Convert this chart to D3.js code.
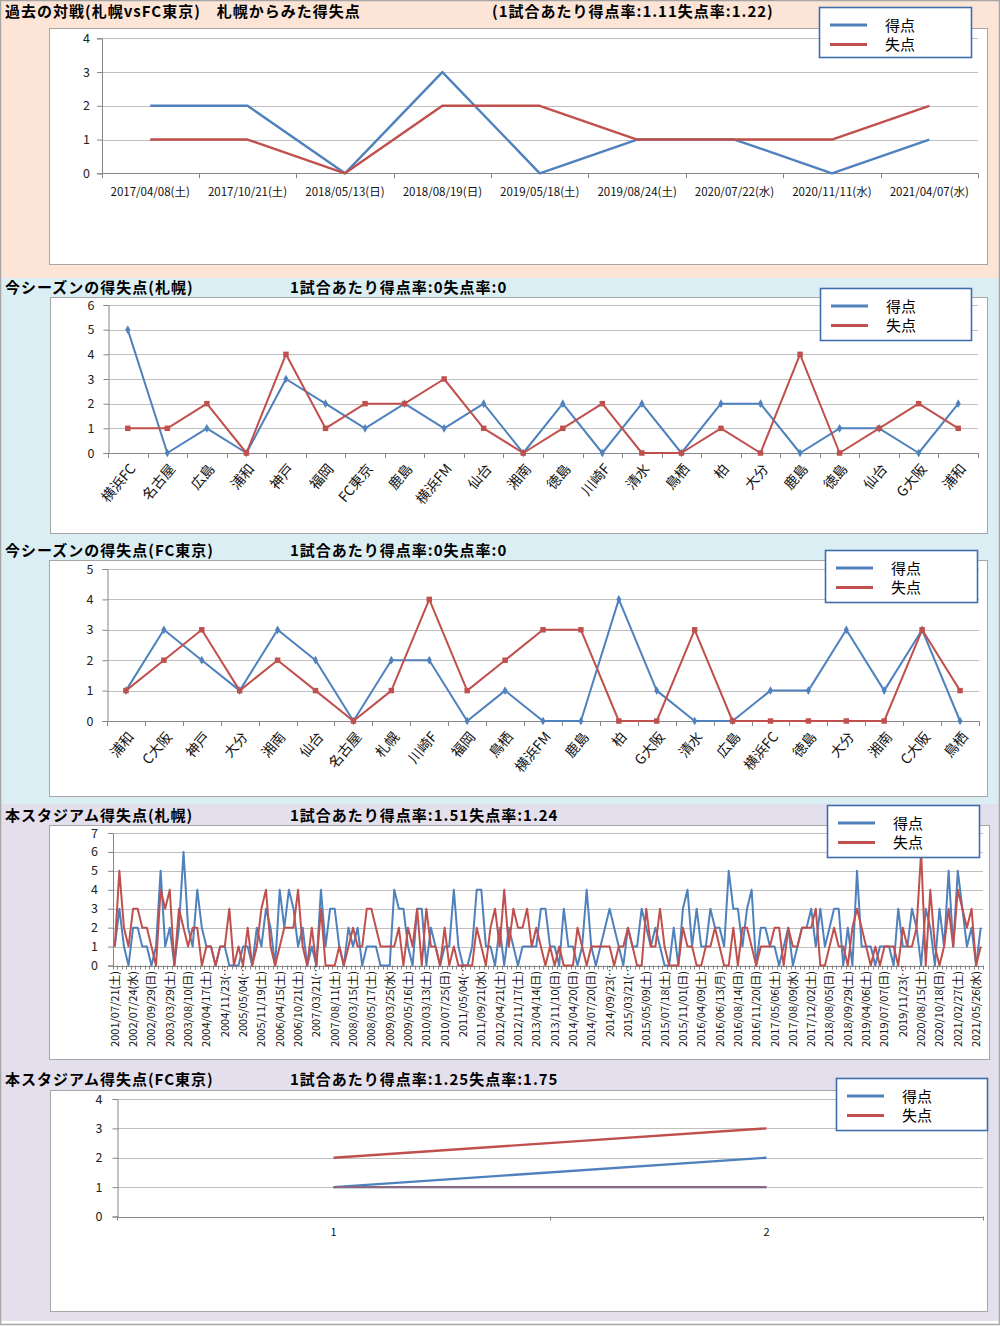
<!DOCTYPE html>
<html><head><meta charset="utf-8">
<script src="https://cdn.jsdelivr.net/npm/d3@7"></script>
<style>body{margin:0;background:#fff}svg{display:block}</style>
</head><body>
<svg id="c" width="1000" height="1326"></svg>
<script>
// ---------- DATA ----------
const seriesNames = ["得点", "失点"];

// Panel 1: past head-to-head (Sapporo vs FC Tokyo)
const p1Title = "過去の対戦(札幌vsFC東京)　札幌からみた得失点";
const p1Rate = "(1試合あたり得点率:1.11失点率:1.22)";
const p1Dates = ["2017/04/08(土)","2017/10/21(土)","2018/05/13(日)","2018/08/19(日)","2019/05/18(土)","2019/08/24(土)","2020/07/22(水)","2020/11/11(水)","2021/04/07(水)"];
const p1For = [2,2,0,3,0,1,1,0,1];
const p1Against = [1,1,0,2,2,1,1,1,2];

// Panel 2: this season (Sapporo)
const p2Title = "今シーズンの得失点(札幌)";
const p2Rate = "1試合あたり得点率:0失点率:0";
const p2Teams = ["横浜FC","名古屋","広島","浦和","神戸","福岡","FC東京","鹿島","横浜FM","仙台","湘南","徳島","川崎F","清水","鳥栖","柏","大分","鹿島","徳島","仙台","G大阪","浦和"];
const p2For = [5,0,1,0,3,2,1,2,1,2,0,2,0,2,0,2,2,0,1,1,0,2];
const p2Against = [1,1,2,0,4,1,2,2,3,1,0,1,2,0,0,1,0,4,0,1,2,1];

// Panel 3: this season (FC Tokyo)
const p3Title = "今シーズンの得失点(FC東京)";
const p3Rate = "1試合あたり得点率:0失点率:0";
const p3Teams = ["浦和","C大阪","神戸","大分","湘南","仙台","名古屋","札幌","川崎F","福岡","鳥栖","横浜FM","鹿島","柏","G大阪","清水","広島","横浜FC","徳島","大分","湘南","C大阪","鳥栖"];
const p3For = [1,3,2,1,3,2,0,2,2,0,1,0,0,4,1,0,0,1,1,3,1,3,0];
const p3Against = [1,2,3,1,2,1,0,1,4,1,2,3,3,0,0,3,0,0,0,0,0,3,1];

// Panel 4: this stadium (Sapporo) – every match, labels shown every 4th match
const p4Title = "本スタジアム得失点(札幌)";
const p4Rate = "1試合あたり得点率:1.51失点率:1.24";
const p4LabelEvery = 4;
const p4Labels = ["2001/07/21(土)","2002/07/24(水)","2002/09/29(日)","2003/03/29(土)","2003/08/10(日)","2004/04/17(土)","2004/11/23(…","2005/05/04(…","2005/11/19(土)","2006/04/15(土)","2006/10/21(土)","2007/03/21(…","2007/08/11(土)","2008/03/15(土)","2008/05/17(土)","2009/03/25(水)","2009/05/16(土)","2010/03/13(土)","2010/07/25(日)","2011/05/04(…","2011/09/21(水)","2012/04/21(土)","2012/11/17(土)","2013/04/14(日)","2013/11/10(日)","2014/04/20(日)","2014/07/20(日)","2014/09/23(…","2015/03/21(…","2015/05/09(土)","2015/07/18(土)","2015/11/01(日)","2016/04/09(土)","2016/06/13(月)","2016/08/14(日)","2016/11/20(日)","2017/05/06(土)","2017/08/09(水)","2017/12/02(土)","2018/08/05(日)","2018/09/29(土)","2019/04/06(土)","2019/07/07(日)","2019/11/23(…","2020/08/15(土)","2020/10/18(日)","2021/02/27(土)","2021/05/26(水)"];
const p4For = [1,3,1,0,2,2,1,1,0,1, 5,1,2,0,2,6,2,1,4,2, 1,1,0,1,1,0,0,0,1,1, 0,2,1,3,2,0,4,2,4,3, 1,2,0,1,0,4,1,3,
  3,1,0,2,1,2,0,1,1,1, 0,0,0,4,3,3,1,0,3,3, 0,2,1,0,1,1,4,1,0,0, 1,4,4,1,1,0,2,0,2,1, 0,1,1,1,1,3,3,1,
  1,0,3,1,1,0,1,4,1,0, 1,2,3,2,1,0,2,1,1,3, 2,1,2,1,0,0,2,0,3,4, 1,3,1,1,3,2,2,1,5,3, 3,1,3,4,0,2,2,1,
  1,0,1,2,0,1,2,2,3,1, 3,1,2,3,3,0,2,0,5,1, 1,1,0,1,1,1,0,3,1,1, 3,2,0,3,2,0,3,1,5,1, 5,3,1,2,0,2];
const p4Against = [1,5,2,1,3,3,2,2,1,0, 4,3,4,0,3,2,1,2,2,0, 1,1,0,1,1,3,0,1,0,2, 0,1,3,4,1,0,1,2,2,2, 4,1,0,2,0,3,0,0,
  0,1,0,1,2,1,1,3,3,2, 1,1,1,1,2,0,2,1,3,0, 3,1,1,0,2,0,1,0,0,0, 0,2,1,0,2,3,1,4,1,3, 2,2,3,1,2,1,0,1,
  0,1,0,0,0,2,1,0,1,1, 1,1,1,0,1,1,2,1,0,0, 3,1,1,3,1,0,0,0,2,1, 1,0,0,1,1,2,1,0,0,2, 0,2,2,1,0,1,1,1,
  2,2,0,2,1,1,2,2,2,3, 0,0,1,2,1,1,0,2,3,2, 1,0,1,0,1,1,1,0,2,1, 1,2,6,0,4,1,0,1,3,1, 4,3,2,3,0,1];

// Panel 5: this stadium (FC Tokyo)
const p5Title = "本スタジアム得失点(FC東京)";
const p5Rate = "1試合あたり得点率:1.25失点率:1.75";
const p5Cats = ["1","2"];
const p5ForA = [1,2];
const p5AgainstA = [2,3];
const p5ForB = [1,1];
const p5AgainstB = [1,1];

// ---------- DRAWING ----------
const BLUE = "#4f81bd", RED = "#c0504d";
const FONT = "'Noto Sans CJK JP','Noto Sans',sans-serif";
const svg = d3.select("#c");

// backgrounds
const bands = [
  {y0:0, y1:278, c:"#fce4d6"},
  {y0:278, y1:804, c:"#dbeef3"},
  {y0:804, y1:1321, c:"#e4dfec"}
];
svg.selectAll("rect.bg").data(bands).join("rect").attr("class","bg")
  .attr("x",0).attr("y",d=>d.y0).attr("width",1000).attr("height",d=>d.y1-d.y0).attr("fill",d=>d.c);
svg.append("rect").attr("x",0.5).attr("y",0.5).attr("width",999).attr("height",1324)
  .attr("fill","none").attr("stroke","#a6a6a6").attr("stroke-width",1.5);

function title(t1, t2, y, x2) {
  svg.append("text").attr("x",5).attr("y",y+5).text(t1)
    .attr("font-family",FONT).attr("font-weight","bold").attr("font-size",15).attr("letter-spacing",1).attr("fill","#000");
  svg.append("text").attr("x",x2).attr("y",y+5).text(t2)
    .attr("font-family",FONT).attr("font-weight","bold").attr("font-size",15).attr("letter-spacing",1).attr("fill","#000");
}

function drawPanel(o) {
  const g = svg.append("g");
  const [bx0,by0,bx1,by1] = o.box;
  g.append("rect").attr("x",bx0+0.5).attr("y",by0+0.5).attr("width",bx1-bx0).attr("height",by1-by0)
    .attr("fill","#fff").attr("stroke","#a6a6a6");
  const n = o.cats.length;
  const [px0,px1,pyTop,pyBot] = o.plot;
  const x = d3.scaleBand().domain(d3.range(n)).range([px0,px1]).padding(0);
  const y = d3.scaleLinear().domain([0,o.ymax]).range([pyBot,pyTop]);
  const cx = i => x(i) + x.bandwidth()/2;

  // gridlines
  g.append("g").selectAll("line").data(d3.range(1,o.ymax+1)).join("line")
    .attr("x1",px0).attr("x2",px1).attr("y1",d=>Math.round(y(d))+0.5).attr("y2",d=>Math.round(y(d))+0.5)
    .attr("stroke","#bfbfbf").attr("stroke-width",1.2);

  // y axis
  const ya = d3.axisLeft(y).ticks(o.ymax).tickSize(5).tickPadding(o.yPad).tickFormat(d3.format("d"));
  const yg = g.append("g").attr("transform",`translate(${px0+0.5},0)`).call(ya);
  yg.select(".domain").attr("stroke","#868686");
  yg.selectAll(".tick line").attr("stroke","#868686");
  yg.selectAll(".tick text").attr("font-family",FONT).attr("font-size",12.5).attr("fill","#222");

  // x axis line + category ticks between categories
  g.append("line").attr("x1",px0).attr("x2",px1).attr("y1",Math.round(y(0))+0.5).attr("y2",Math.round(y(0))+0.5)
    .attr("stroke","#868686").attr("stroke-width",1.2);
  g.append("g").selectAll("line").data(d3.range(0,n+1)).join("line")
    .attr("x1",i=>Math.round(px0+i*x.step())+0.5).attr("x2",i=>Math.round(px0+i*x.step())+0.5)
    .attr("y1",y(0)).attr("y2",y(0)+o.tickLen).attr("stroke","#868686");

  // series
  const line = d3.line().x((d,i)=>cx(i)).y(d=>y(d));
  o.series.forEach(s=>{
    g.append("path").datum(s.values).attr("d",line).attr("fill","none")
      .attr("stroke",s.color).attr("stroke-width",o.lw).attr("stroke-linejoin","round")
      .attr("opacity",s.opacity||1);
    if (o.markers && s.marker) {
      g.append("g").selectAll("path").data(s.values).join("path")
        .attr("transform",(d,i)=>`translate(${cx(i)},${y(d)})`)
        .attr("d",d3.symbol().type(s.marker).size(s.marker===d3.symbolSquare?30:22))
        .attr("fill",s.color);
    }
  });

  // category labels
  const lg = g.append("g").attr("font-family",FONT).attr("fill","#111");
  if (o.labelMode === "flat") {
    lg.selectAll("text").data(o.cats).join("text")
      .attr("x",(d,i)=>cx(i)).attr("y",o.labelY).attr("text-anchor","middle")
      .attr("font-size",o.labelSize).text(d=>d);
  } else if (o.labelMode === "diag") {
    lg.selectAll("text").data(o.cats).join("text")
      .attr("transform",(d,i)=>`translate(${cx(i)+5},${o.labelY}) rotate(-50)`)
      .attr("text-anchor","end").attr("dy","0.35em").attr("font-size",o.labelSize).text(d=>d);
  } else if (o.labelMode === "vert") {
    const idx = d3.range(n).filter(i=>i % o.labelEvery === 0);
    lg.selectAll("text").data(idx).join("text")
      .attr("transform",i=>{
        const lab = o.cats[i];
        const off = lab.endsWith("…") ? -6 : 0;
        return `translate(${cx(i)},${o.labelY+off}) rotate(-90)`;
      })
      .attr("text-anchor","end").attr("dy","0.36em").attr("font-size",o.labelSize).text(i=>o.cats[i]);
  }

  // legend
  const [lx0,ly0,lx1,ly1] = o.legend;
  const leg = svg.append("g");
  leg.append("rect").attr("x",lx0+0.5).attr("y",ly0+0.5).attr("width",lx1-lx0).attr("height",ly1-ly0)
    .attr("fill","#fff").attr("stroke","#3f6fab").attr("stroke-width",1.6);
  const items = o.series.filter(s=>s.legend);
  leg.selectAll("line").data(items).join("line")
    .attr("x1",lx0+11).attr("x2",lx0+48).attr("y1",(d,i)=>ly0+18+i*19.5).attr("y2",(d,i)=>ly0+18+i*19.5)
    .attr("stroke",d=>d.color).attr("stroke-width",3);
  leg.selectAll("text").data(items).join("text")
    .attr("x",lx0+66).attr("y",(d,i)=>ly0+18+i*19.5+5.5).text(d=>d.name)
    .attr("font-family",FONT).attr("font-size",15).attr("fill","#000");
}

// Panel 1
title(p1Title, p1Rate, 12, 492);
drawPanel({
  box:[49,28,987,264], plot:[101.5,978,38.3,173.3], ymax:4, yPad:7,
  cats:p1Dates, labelMode:"flat", labelY:196, labelSize:11.5, tickLen:5, lw:2.4, markers:false,
  series:[
    {name:seriesNames[0], values:p1For, color:BLUE, legend:true},
    {name:seriesNames[1], values:p1Against, color:RED, legend:true}
  ],
  legend:[819,7,971,57]
});

// Panel 2
title(p2Title, p2Rate, 288, 290);
drawPanel({
  box:[50,297,987,533], plot:[108,978,305,453], ymax:6, yPad:9,
  cats:p2Teams, labelMode:"diag", labelY:466, labelSize:14, tickLen:5, lw:2, markers:true,
  series:[
    {name:seriesNames[0], values:p2For, color:BLUE, legend:true, marker:d3.symbolDiamond},
    {name:seriesNames[1], values:p2Against, color:RED, legend:true, marker:d3.symbolSquare}
  ],
  legend:[820,288,971,340]
});

// Panel 3
title(p3Title, p3Rate, 551, 290);
drawPanel({
  box:[49,560,987,796], plot:[107,979,569,721], ymax:5, yPad:9,
  cats:p3Teams, labelMode:"diag", labelY:734, labelSize:14, tickLen:5, lw:2, markers:true,
  series:[
    {name:seriesNames[0], values:p3For, color:BLUE, legend:true, marker:d3.symbolDiamond},
    {name:seriesNames[1], values:p3Against, color:RED, legend:true, marker:d3.symbolSquare}
  ],
  legend:[825,550,977,602]
});

// Panel 4
title(p4Title, p4Rate, 816, 290);
const p4Cats = p4For.map((d,i)=> i % p4LabelEvery === 0 ? p4Labels[i/p4LabelEvery] : "");
drawPanel({
  box:[49,825,989,1059], plot:[112.5,983,833,965.5], ymax:7, yPad:10,
  cats:p4Cats, labelMode:"vert", labelEvery:p4LabelEvery, labelY:971, labelSize:11, tickLen:4, lw:2, markers:false,
  series:[
    {name:seriesNames[0], values:p4For, color:BLUE, legend:true},
    {name:seriesNames[1], values:p4Against, color:RED, legend:true}
  ],
  legend:[827,805,979,857]
});

// Panel 5
title(p5Title, p5Rate, 1080, 290);
drawPanel({
  box:[50,1090,987,1311], plot:[117,983,1099,1216.5], ymax:4, yPad:10,
  cats:p5Cats, labelMode:"flat", labelY:1236, labelSize:11, tickLen:4, lw:2.4, markers:false,
  series:[
    {name:seriesNames[0], values:p5ForA, color:BLUE, legend:true},
    {name:seriesNames[1], values:p5AgainstA, color:RED, legend:true},
    {name:seriesNames[0], values:p5ForB, color:BLUE, legend:false},
    {name:seriesNames[1], values:p5AgainstB, color:RED, legend:false, opacity:0.5}
  ],
  legend:[836,1078,987,1130]
});
</script>
</body></html>
